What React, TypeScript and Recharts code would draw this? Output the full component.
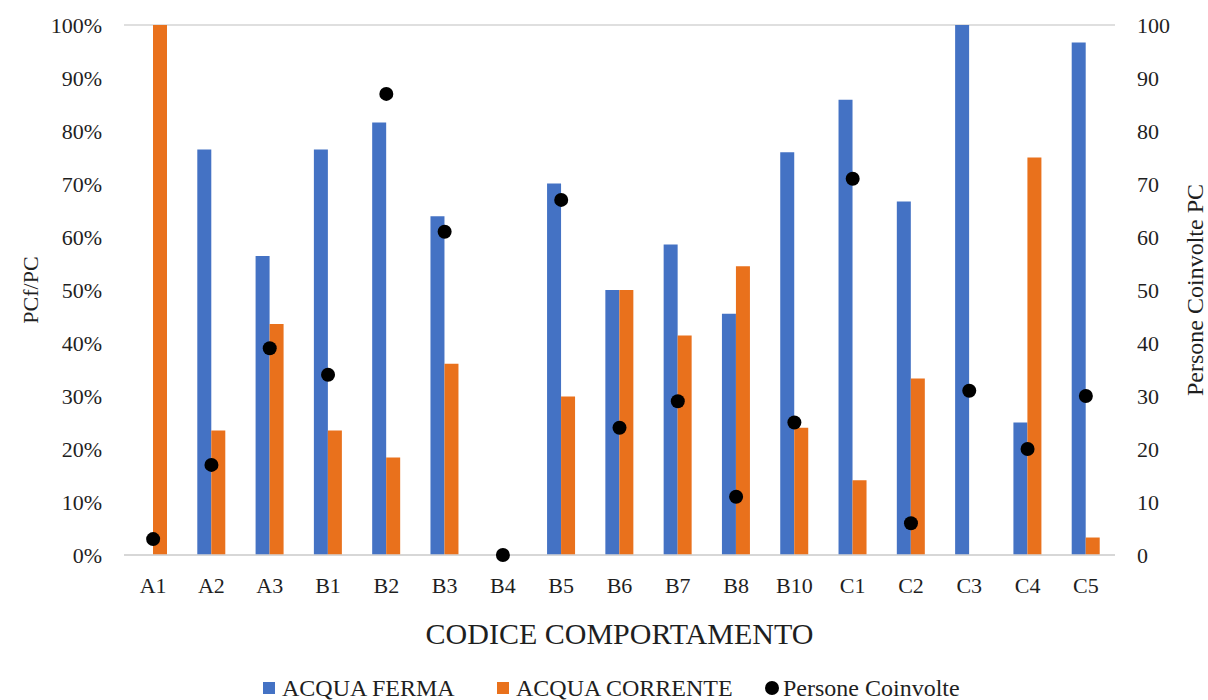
import React from 'react';
import { ComposedChart, Bar, Line, XAxis, YAxis, CartesianGrid } from 'recharts';

const FONT = "'Liberation Serif', 'DejaVu Serif', serif";
const BLUE = '#4472C4';
const ORANGE = '#E9711C';

// behaviour codes on the x axis
const categories = ['A1', 'A2', 'A3', 'B1', 'B2', 'B3', 'B4', 'B5', 'B6', 'B7', 'B8', 'B10', 'C1', 'C2', 'C3', 'C4', 'C5'];

// share of PC (0..1), left axis
const acquaFerma = [0, 0.765, 0.564, 0.765, 0.816, 0.639, 0, 0.701, 0.5, 0.586, 0.455, 0.76, 0.859, 0.667, 1, 0.25, 0.967];
const acquaCorrente = [1, 0.235, 0.436, 0.235, 0.184, 0.361, 0, 0.299, 0.5, 0.414, 0.545, 0.24, 0.141, 0.333, 0, 0.75, 0.033];

// people involved, right axis
const personeCoinvolte = [3, 17, 39, 34, 87, 61, 0, 67, 24, 29, 11, 25, 71, 6, 31, 20, 30];

const pctTicks = [0, 0.1, 0.2, 0.3, 0.4, 0.5, 0.6, 0.7, 0.8, 0.9, 1];
const countTicks = [0, 10, 20, 30, 40, 50, 60, 70, 80, 90, 100];

const data = categories.map((codice, i) => ({
  codice,
  ferma: acquaFerma[i],
  corrente: acquaCorrente[i],
  persone: personeCoinvolte[i],
}));

const TEXT = '#1f1f1f';
const tickStyle = { fontFamily: FONT, fontSize: 22, fill: TEXT };

const legendItems = [
  { label: 'ACQUA FERMA', color: BLUE, shape: 'square', left: 263 },
  { label: 'ACQUA CORRENTE', color: ORANGE, shape: 'square', left: 497 },
  { label: 'Persone Coinvolte', color: '#000', shape: 'circle', left: 765 },
];

// chart sits flush with the page corner
if (typeof document !== 'undefined') document.body.style.margin = '0';

export default function App() {
  return (
    <div style={{ position: 'relative', width: 1208, height: 700, background: '#fff', fontFamily: FONT }}>
      <ComposedChart
        width={1208}
        height={700}
        data={data}
        margin={{ top: 25, right: 0, bottom: 50, left: 0 }}
        barGap={0}
      >
        <CartesianGrid vertical={false} stroke="#d4d4d4" strokeWidth={1.5} />
        <XAxis
          dataKey="codice"
          height={95}
          tickLine={false}
          axisLine={{ stroke: '#d4d4d4', strokeWidth: 1.5 }}
          tickSize={0}
          tickMargin={22}
          tick={tickStyle}
          interval={0}
          label={{
            value: 'CODICE COMPORTAMENTO',
            position: 'insideBottom',
            offset: 6,
            style: { fontFamily: FONT, fontSize: 30, fill: TEXT },
          }}
        />
        <YAxis
          yAxisId="left"
          width={124}
          domain={[0, 1]}
          ticks={pctTicks}
          tickFormatter={(v: number) => `${Math.round(v * 100)}%`}
          axisLine={false}
          tickLine={false}
          tickSize={0}
          tickMargin={22}
          tick={tickStyle}
          label={{
            value: 'PCf/PC',
            angle: -90,
            position: 'center',
            dx: -32,
            style: { fontFamily: FONT, fontSize: 22, fill: TEXT },
          }}
        />
        <YAxis
          yAxisId="right"
          orientation="right"
          width={93}
          domain={[0, 100]}
          ticks={countTicks}
          axisLine={false}
          tickLine={false}
          tickSize={0}
          tickMargin={22}
          tick={tickStyle}
          label={{
            value: 'Persone Coinvolte PC',
            angle: -90,
            position: 'center',
            dx: 33,
            style: { fontFamily: FONT, fontSize: 24, fill: TEXT },
          }}
        />
        <Bar yAxisId="left" dataKey="ferma" name="ACQUA FERMA" fill={BLUE} barSize={14} isAnimationActive={false} />
        <Bar yAxisId="left" dataKey="corrente" name="ACQUA CORRENTE" fill={ORANGE} barSize={14} isAnimationActive={false} />
        <Line
          yAxisId="right"
          dataKey="persone"
          name="Persone Coinvolte"
          stroke="none"
          dot={{ r: 7, fill: '#000', stroke: 'none' }}
          activeDot={false}
          isAnimationActive={false}
        />
      </ComposedChart>
      {legendItems.map((item) => (
        <div
          key={item.label}
          style={{
            position: 'absolute',
            top: 676,
            left: item.left,
            display: 'flex',
            alignItems: 'center',
            fontSize: 24,
            lineHeight: '24px',
            color: TEXT,
            whiteSpace: 'nowrap',
          }}
        >
          <span
            style={{
              display: 'inline-block',
              width: item.shape === 'circle' ? 14 : 12,
              height: item.shape === 'circle' ? 14 : 12,
              borderRadius: item.shape === 'circle' ? '50%' : 0,
              background: item.color,
              marginRight: item.shape === 'circle' ? 4 : 7,
            }}
          />
          {item.label}
        </div>
      ))}
    </div>
  );
}
